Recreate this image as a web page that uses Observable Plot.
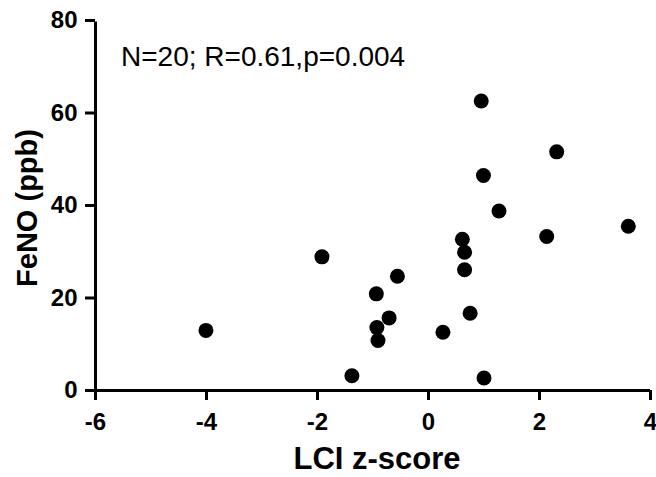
<!DOCTYPE html>
<html>
<head>
<meta charset="utf-8">
<script src="https://cdn.jsdelivr.net/npm/d3@7"></script>
<script src="https://cdn.jsdelivr.net/npm/@observablehq/plot@0.6"></script>
<style>
  html, body { margin: 0; padding: 0; background: #fff; }
  #chart { width: 656px; height: 477px; }
</style>
</head>
<body>
<div id="chart"></div>
<script>
const lciZ = [0.95, 2.31, 0.99, 1.27, 3.60, 2.13, 0.61, 0.65, 0.65, -1.92, -0.56, -0.94, -0.71, -0.93, -0.91, 0.26, 0.75, -1.38, 1.00, -4.01];
const feno = [62.6, 51.6, 46.5, 38.8, 35.5, 33.3, 32.7, 29.9, 26.1, 28.9, 24.7, 20.9, 15.7, 13.6, 10.8, 12.6, 16.7, 3.2, 2.7, 13.0];
const xTicks = [-6, -4, -2, 0, 2, 4];
const yTicks = [0, 20, 40, 60, 80];
const annotation = "N=20; R=0.61,p=0.004";
const xLabel = "LCI z-score";
const yLabel = "FeNO (ppb)";

const data = lciZ.map((x, i) => ({x, y: feno[i]}));
const font = "'Liberation Sans', Arial, sans-serif";

const chart = Plot.plot({
  width: 656,
  height: 477,
  marginLeft: 95,
  marginRight: 6,
  marginTop: 20,
  marginBottom: 87,
  style: {fontFamily: font, color: "#000", background: "#fff"},
  x: {domain: [-6, 4], axis: null},
  y: {domain: [0, 80], axis: null},
  marks: [
    // tick marks
    Plot.ruleX(xTicks, {x: d => d, y1: 0, y2: 0, insetBottom: -10, strokeWidth: 3, stroke: "#000"}),
    Plot.ruleY(yTicks, {y: d => d, x1: -6, x2: -6, insetLeft: -10, strokeWidth: 3, stroke: "#000"}),
    // axis lines
    Plot.ruleY([0], {x1: -6, x2: 4, strokeWidth: 3, stroke: "#000"}),
    Plot.ruleX([-6], {y1: 0, y2: 80, strokeWidth: 3, stroke: "#000", insetBottom: -1.5}),
    // tick labels
    Plot.text(xTicks, {x: d => d, y: 0, text: d => String(d), dy: 32, lineAnchor: "middle", textAnchor: "middle", fontSize: 24, fontWeight: "bold", fill: "#000"}),
    Plot.text(yTicks, {x: -6, y: d => d, text: d => String(d), dx: -18, lineAnchor: "middle", textAnchor: "end", fontSize: 24, fontWeight: "bold", fill: "#000"}),
    // data
    Plot.dot(data, {x: "x", y: "y", r: 7.5, fill: "#000", stroke: null}),
    // annotation & labels
    Plot.text([annotation], {x: -5.54, y: 70.1, text: d => d, textAnchor: "start", lineAnchor: "bottom", fontSize: 28, fill: "#000"}),
    Plot.text([xLabel], {frameAnchor: "bottom", text: d => d, dx: 4, dy: 69, textAnchor: "middle", lineAnchor: "middle", fontSize: 31, fontWeight: "bold", fill: "#000"}),
    Plot.text([yLabel], {frameAnchor: "left", text: d => d, dx: -68, dy: 2.5, rotate: -90, textAnchor: "middle", lineAnchor: "middle", fontSize: 29, fontWeight: "bold", fill: "#000"})
  ]
});
document.getElementById("chart").append(chart);
</script>
</body>
</html>
